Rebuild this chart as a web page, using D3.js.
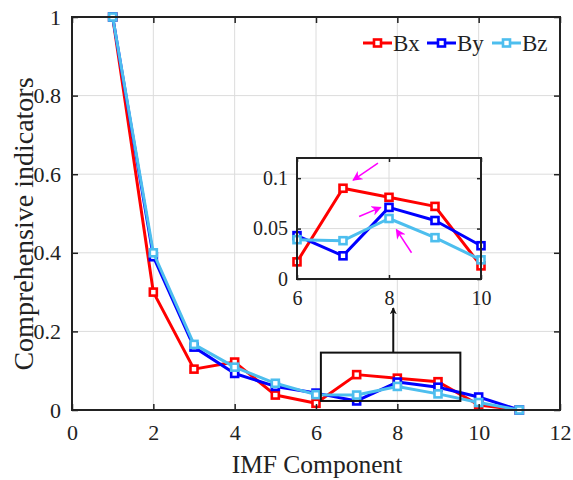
<!DOCTYPE html>
<html>
<head>
<meta charset="utf-8">
<script src="https://cdn.jsdelivr.net/npm/d3@7"></script>
<style>
  body { margin: 0; background: #fff; }
  svg text { font-family: "Liberation Serif", "Times New Roman", serif; fill: #222; }
</style>
</head>
<body>
<div id="chart"></div>
<script>
// IMF component index
var imf = [1, 2, 3, 4, 5, 6, 7, 8, 9, 10, 11];
var bx = [1, 0.30, 0.104, 0.122, 0.038, 0.017, 0.090, 0.081, 0.072, 0.013, 0];
var by = [1, 0.39, 0.160, 0.093, 0.060, 0.043, 0.023, 0.071, 0.058, 0.033, 0];
var bz = [1, 0.40, 0.167, 0.109, 0.068, 0.039, 0.038, 0.060, 0.041, 0.019, 0];
var seriesNames = ["Bx", "By", "Bz"];
var seriesColors = ["#ff0000", "#0000ff", "#4dbeee"];

var xTicks = [0, 2, 4, 6, 8, 10, 12];
var yTicks = [0, 0.2, 0.4, 0.6, 0.8, 1];
var insetXTicks = [6, 8, 10];
var insetYTicks = [0, 0.05, 0.1];
var insetFirst = 5, insetLast = 9; // indices of imf 6..10
// zoom rectangle in main-axis data units
var zoomBox = {x0: 6.12, x1: 9.55, y0: 0.023, y1: 0.146};
// magenta pointers in inset data units [x1,y1,x2,y2]
var pointers = [
    [7.76, 0.115, 7.22, 0.098],
    [7.35, 0.062, 7.82, 0.071],
    [8.49, 0.026, 8.16, 0.049]
];

var width = 573, height = 480;
var svg = d3.select("#chart").append("svg")
    .attr("width", width).attr("height", height);

var defs = svg.append("defs");
defs.append("marker").attr("id", "headBlack")
    .attr("viewBox", "0 0 10 10").attr("refX", 9).attr("refY", 5)
    .attr("markerWidth", 7).attr("markerHeight", 7).attr("orient", "auto")
    .attr("markerUnits", "userSpaceOnUse")
    .append("path").attr("d", "M0,0 L10,5 L0,10 L3,5 Z").attr("fill", "#111");
defs.append("marker").attr("id", "headMag")
    .attr("viewBox", "0 0 10 10").attr("refX", 9).attr("refY", 5)
    .attr("markerWidth", 10).attr("markerHeight", 10).attr("orient", "auto")
    .attr("markerUnits", "userSpaceOnUse")
    .append("path").attr("d", "M0,0 L10,5 L0,10 L3,5 Z").attr("fill", "#ff00ff");

var x = d3.scaleLinear().domain([0, 12]).range([72, 560]);
var y = d3.scaleLinear().domain([0, 1]).range([410, 17]);

var series = [bx, by, bz].map(function (vals, i) {
    return { name: seriesNames[i], color: seriesColors[i],
        values: vals.map(function (v, j) { return { x: imf[j], y: v }; }) };
});

// grid
var grid = svg.append("g").attr("stroke", "#dcdcdc").attr("stroke-width", 1);
grid.selectAll(".gx").data(xTicks.slice(1, -1)).enter().append("line")
    .attr("x1", d => x(d)).attr("x2", d => x(d))
    .attr("y1", y(0)).attr("y2", y(1));
grid.selectAll(".gy").data(yTicks.slice(1, -1)).enter().append("line")
    .attr("x1", x(0)).attr("x2", x(12))
    .attr("y1", d => y(d)).attr("y2", d => y(d));

function drawAxes(g, xs, ys, xt, yt, fmtY, fs, tick) {
    var r = xs.range(), d = ys.range();
    g.append("g").attr("transform", "translate(0," + d[0] + ")")
        .call(d3.axisBottom(xs).tickValues(xt).tickSize(-tick).tickPadding(tick + 8).tickFormat(d3.format("d")))
        .call(a => a.select(".domain").remove());
    g.append("g").attr("transform", "translate(0," + d[1] + ")")
        .call(d3.axisTop(xs).tickValues(xt).tickSize(-tick).tickFormat(""))
        .call(a => a.select(".domain").remove());
    g.append("g").attr("transform", "translate(" + r[0] + ",0)")
        .call(d3.axisLeft(ys).tickValues(yt).tickSize(-tick).tickPadding(tick + 5).tickFormat(fmtY))
        .call(a => a.select(".domain").remove());
    g.append("g").attr("transform", "translate(" + r[1] + ",0)")
        .call(d3.axisRight(ys).tickValues(yt).tickSize(-tick).tickFormat(""))
        .call(a => a.select(".domain").remove());
    g.selectAll("g").attr("font-family", null);
    g.selectAll(".tick line").attr("stroke", "#222").attr("stroke-width", 1.5);
    g.selectAll(".tick text").style("font-size", fs + "px").attr("fill", "#222");
    g.append("rect").attr("x", r[0]).attr("y", d[1])
        .attr("width", r[1] - r[0]).attr("height", d[0] - d[1])
        .attr("fill", "none").attr("stroke", "#222").attr("stroke-width", 2);
}

function drawSeries(g, xs, ys, data, lw, ms) {
    var line = d3.line().x(d => xs(d.x)).y(d => ys(d.y));
    data.forEach(function (s) {
        g.append("path").datum(s.values).attr("d", line)
            .attr("fill", "none").attr("stroke", s.color).attr("stroke-width", lw)
            .attr("stroke-linejoin", "round");
        g.selectAll(null).data(s.values).enter().append("rect")
            .attr("x", d => xs(d.x) - ms / 2).attr("y", d => ys(d.y) - ms / 2)
            .attr("width", ms).attr("height", ms)
            .attr("fill", "#fff").attr("stroke", s.color).attr("stroke-width", 2.6);
    });
}

var main = svg.append("g");
drawSeries(main, x, y, series, 3, 7);
drawAxes(main, x, y, xTicks, yTicks, function (d) { return d === 0 || d === 1 ? d : d3.format(".1f")(d); }, 22, 6);

// zoom rectangle + arrow
main.append("rect")
    .attr("x", x(zoomBox.x0)).attr("y", y(zoomBox.y1))
    .attr("width", x(zoomBox.x1) - x(zoomBox.x0)).attr("height", y(zoomBox.y0) - y(zoomBox.y1))
    .attr("fill", "none").attr("stroke", "#111").attr("stroke-width", 2);

// inset
var ix = d3.scaleLinear().domain([6, 10]).range([297, 481]);
var iy = d3.scaleLinear().domain([0, 0.12]).range([279, 158]);

main.append("line")
    .attr("x1", x(7.9)).attr("x2", x(7.9))
    .attr("y1", y(zoomBox.y1)).attr("y2", 308)
    .attr("stroke", "#111").attr("stroke-width", 2)
    .attr("marker-end", "url(#headBlack)");

var inset = svg.append("g");
inset.append("rect").attr("x", 297).attr("y", 158).attr("width", 184).attr("height", 121).attr("fill", "#fff");
var igrid = inset.append("g").attr("stroke", "#dcdcdc").attr("stroke-width", 1);
igrid.selectAll(null).data([8]).enter().append("line")
    .attr("x1", d => ix(d)).attr("x2", d => ix(d)).attr("y1", iy(0)).attr("y2", iy(0.12));
igrid.selectAll(null).data([0.05, 0.1]).enter().append("line")
    .attr("x1", ix(6)).attr("x2", ix(10)).attr("y1", d => iy(d)).attr("y2", d => iy(d));

var insetSeries = series.map(function (s) {
    return { name: s.name, color: s.color, values: s.values.slice(insetFirst, insetLast + 1) };
});
drawSeries(inset, ix, iy, insetSeries, 3, 7);
drawAxes(inset, ix, iy, insetXTicks, insetYTicks, function (d) { return d === 0 ? "0" : String(d); }, 20, 4);

inset.selectAll(".ptr").data(pointers).enter().append("line")
    .attr("x1", d => ix(d[0])).attr("y1", d => iy(d[1]))
    .attr("x2", d => ix(d[2])).attr("y2", d => iy(d[3]))
    .attr("stroke", "#ff00ff").attr("stroke-width", 1.5)
    .attr("marker-end", "url(#headMag)");

// legend
var legendX = [363, 427, 492];
var leg = svg.append("g");
series.forEach(function (s, i) {
    var lx = legendX[i], ly = 43;
    leg.append("line").attr("x1", lx).attr("x2", lx + 29).attr("y1", ly).attr("y2", ly)
        .attr("stroke", s.color).attr("stroke-width", 3);
    leg.append("rect").attr("x", lx + 14.5 - 3.5).attr("y", ly - 3.5).attr("width", 7).attr("height", 7)
        .attr("fill", "#fff").attr("stroke", s.color).attr("stroke-width", 2.6);
    leg.append("text").attr("x", lx + 30).attr("y", ly + 8)
        .style("font-size", "23px").text(s.name);
});

// axis labels
svg.append("text").attr("x", 317).attr("y", 473).attr("text-anchor", "middle")
    .style("font-size", "25.5px").text("IMF Component");
svg.append("text").attr("transform", "translate(33,224) rotate(-90)").attr("text-anchor", "middle")
    .style("font-size", "28px").text("Comprehensive indicators");
</script>
</body>
</html>
